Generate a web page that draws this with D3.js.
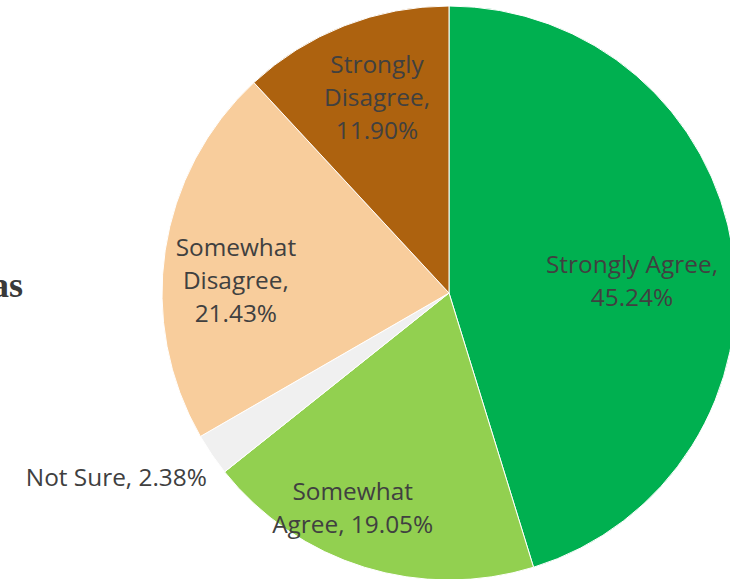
<!DOCTYPE html>
<html>
<head>
<meta charset="utf-8">
<script src="https://cdn.jsdelivr.net/npm/d3@7"></script>
<style>
    body { margin: 0; background: #fff; }
    svg { display: block; }
</style>
</head>
<body>
<svg id="canvas"></svg>
<script>
const categories = ["Strongly Agree", "Somewhat Agree", "Not Sure", "Somewhat Disagree", "Strongly Disagree"];
const values = [45.24, 19.05, 2.38, 21.43, 11.90];
const colors = ["#00b050", "#92d050", "#f0f0f0", "#f8cd9c", "#ad620f"];

// how many words go on each label line, and where the label sits relative to its slice
const lineSizes = [[2, 1], [1, 2], [3], [1, 1, 1], [1, 1, 1]];
const labelPlace = [
    { k: 0.639, turn: 4.7, anchor: "middle" },
    { k: 0.82, turn: 7.0, anchor: "middle" },
    { k: 1.06, turn: -3.0, anchor: "end" },
    { k: 0.744, turn: -5.2, anchor: "middle" },
    { k: 0.726, turn: 1.2, anchor: "middle" }
];

const width = 730;
const height = 579;
const center = { x: 449, y: 293 };
const radius = 287;
const fontSize = 24.4;
const lineHeight = 33;

const svg = d3.select("#canvas")
    .attr("width", width)
    .attr("height", height);

// title, cut off at the left edge as in the original
svg.append("text")
    .attr("x", 23)
    .attr("y", 297)
    .attr("text-anchor", "end")
    .attr("font-family", "Liberation Serif, serif")
    .attr("font-weight", "bold")
    .attr("font-size", 36)
    .attr("fill", "#3a3a3a")
    .text("as");

const data = categories.map((c, i) => ({ category: c, value: values[i], color: colors[i] }));

const pie = d3.pie()
    .value(d => d.value)
    .sort(null);
const arcs = pie(data);

const arcGenerator = d3.arc()
    .innerRadius(0)
    .outerRadius(radius);

const mainGroup = svg.append("g")
    .attr("transform", `translate(${center.x}, ${center.y})`);

mainGroup.selectAll("path")
    .data(arcs)
    .join("path")
    .attr("d", arcGenerator)
    .attr("fill", d => d.data.color)
    .attr("stroke", "#fff")
    .attr("stroke-width", 1);

const pct = d3.format(".2f");

arcs.forEach((a, i) => {
    const words = `${a.data.category}, ${pct(a.data.value)}%`.split(" ");
    const lines = [];
    let pos = 0;
    lineSizes[i].forEach(n => {
        lines.push(words.slice(pos, pos + n).join(" "));
        pos += n;
    });
    const place = labelPlace[i];
    const mid = (a.startAngle + a.endAngle) / 2 + place.turn * Math.PI / 180;
    const [lx, ly] = d3.pointRadial(mid, radius * place.k);

    const text = mainGroup.append("text")
        .attr("text-anchor", place.anchor)
        .attr("font-family", "Open Sans, Noto Sans, sans-serif")
        .attr("font-size", fontSize)
        .attr("fill", "#404040");
    lines.forEach((line, j) => {
        text.append("tspan")
            .attr("x", lx)
            .attr("y", ly + (j - (lines.length - 1) / 2) * lineHeight + 8.5)
            .text(line);
    });
});
</script>
</body>
</html>
